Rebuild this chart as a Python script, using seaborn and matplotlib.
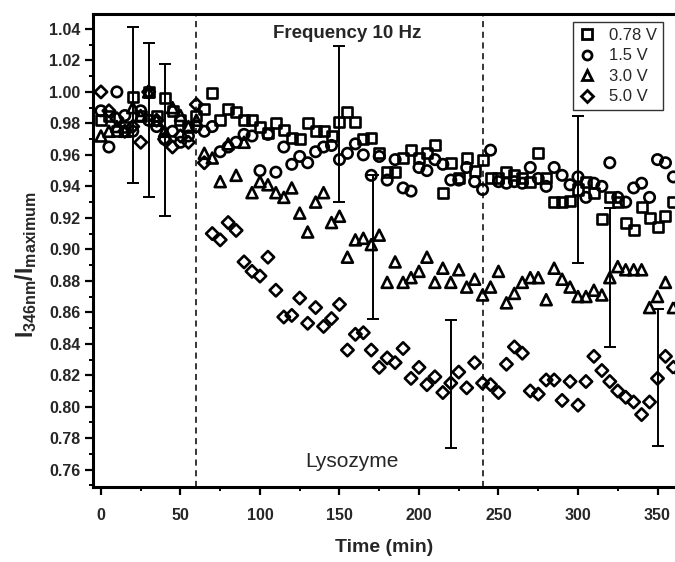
import numpy as np
import pandas as pd
import matplotlib
matplotlib.use("Agg")
import matplotlib.pyplot as plt
import seaborn as sns
from matplotlib.lines import Line2D
from matplotlib.ticker import MultipleLocator

time_min = list(range(0, 365, 5))

v078 = [0.982, 0.985, 0.975, 0.978, 0.997, 0.985, 1.000, 0.985, 0.996, 0.988,
        0.982, 0.978, 0.985, 0.989, 0.999, 0.982, 0.989, 0.987, 0.982, 0.982,
        0.978, 0.974, 0.980, 0.976, 0.971, 0.970, 0.980, 0.975, 0.975, 0.972,
        0.981, 0.987, 0.981, 0.970, 0.971, 0.961, 0.949, 0.949, 0.958, 0.963,
        0.958, 0.961, 0.966, 0.936, 0.955, 0.945, 0.958, 0.950, 0.957, 0.945,
        0.945, 0.949, 0.947, 0.945, 0.943, 0.961, 0.945, 0.930, 0.930, 0.931,
        0.938, 0.943, 0.936, 0.919, 0.933, 0.930, 0.917, 0.912, 0.927, 0.920,
        0.914, 0.921, 0.930]

v15 = [0.988, 0.965, 1.000, 0.985, 0.975, 0.988, 0.982, 0.978, 0.970, 0.975,
       0.968, 0.972, 0.978, 0.975, 0.978, 0.962, 0.965, 0.968, 0.973, 0.972,
       0.950, 0.973, 0.949, 0.965, 0.954, 0.959, 0.955, 0.962, 0.965, 0.966,
       0.957, 0.961, 0.967, 0.960, 0.947, 0.959, 0.944, 0.957, 0.939, 0.937,
       0.952, 0.950, 0.957, 0.954, 0.944, 0.944, 0.952, 0.943, 0.938, 0.963,
       0.943, 0.942, 0.943, 0.942, 0.952, 0.945, 0.940, 0.952, 0.947, 0.941,
       0.946, 0.933, 0.942, 0.940, 0.955, 0.933, 0.930, 0.939, 0.942, 0.933,
       0.957, 0.955, 0.946]

v30 = [0.972, 0.975, 0.978, 0.975, 0.990, 0.985, 1.000, 0.982, 0.975, 0.990,
       0.985, 0.978, 0.982, 0.961, 0.958, 0.943, 0.967, 0.947, 0.968, 0.936,
       0.943, 0.941, 0.936, 0.933, 0.939, 0.923, 0.911, 0.930, 0.936, 0.917,
       0.921, 0.895, 0.906, 0.907, 0.903, 0.909, 0.879, 0.892, 0.879, 0.882,
       0.886, 0.895, 0.879, 0.888, 0.879, 0.887, 0.876, 0.881, 0.871, 0.876,
       0.886, 0.866, 0.872, 0.879, 0.882, 0.882, 0.868, 0.888, 0.881, 0.876,
       0.870, 0.870, 0.874, 0.871, 0.882, 0.889, 0.887, 0.887, 0.887, 0.863,
       0.870, 0.879, 0.863]

v50 = [1.000, 0.988, 0.983, 0.975, 0.978, 0.968, 1.000, 0.982, 0.970, 0.965,
       0.972, 0.968, 0.992, 0.955, 0.910, 0.906, 0.917, 0.912, 0.892, 0.886,
       0.883, 0.895, 0.874, 0.857, 0.858, 0.869, 0.853, 0.863, 0.851, 0.856,
       0.865, 0.836, 0.846, 0.847, 0.836, 0.825, 0.831, 0.828, 0.837, 0.818,
       0.825, 0.814, 0.819, 0.809, 0.815, 0.822, 0.812, 0.828, 0.815, 0.814,
       0.809, 0.827, 0.838, 0.834, 0.810, 0.808, 0.817, 0.817, 0.804, 0.816,
       0.801, 0.816, 0.832, 0.823, 0.816, 0.810, 0.806, 0.803, 0.795, 0.803,
       0.818, 0.832, 0.825]

series_labels = ["0.78 V", "1.5 V", "3.0 V", "5.0 V"]
series_markers = {"0.78 V": "s", "1.5 V": "o", "3.0 V": "^", "5.0 V": "D"}

err_t = [20, 30, 40, 150, 171, 220, 300, 320, 350]
err_lo = [0.942, 0.933, 0.921, 0.930, 0.856, 0.774, 0.891, 0.838, 0.775]
err_hi = [1.041, 1.031, 1.018, 1.029, 0.947, 0.855, 0.985, 0.926, 0.862]

x_ticks = [0, 50, 100, 150, 200, 250, 300, 350]
y_ticks = [0.76, 0.78, 0.80, 0.82, 0.84, 0.86, 0.88, 0.90, 0.92, 0.94,
           0.96, 0.98, 1.00, 1.02, 1.04]

df = pd.concat([
    pd.DataFrame({"t": time_min, "v": vals, "series": lab})
    for vals, lab in zip([v078, v15, v30, v50], series_labels)
])

sns.set_theme(style="ticks")
plt.rcParams["font.family"] = ["Liberation Sans", "DejaVu Sans"]
plt.rcParams["mathtext.fontset"] = "custom"
plt.rcParams["mathtext.bf"] = "Liberation Sans:bold"
plt.rcParams["mathtext.rm"] = "Liberation Sans"

fig = plt.figure(figsize=(6.75, 5.62), dpi=100)
ax = fig.add_axes([93 / 675, 1 - 487 / 562, 1 - 93 / 675, (487 - 14) / 562])

sizes = {"0.78 V": 52, "1.5 V": 56, "3.0 V": 62, "5.0 V": 40}
for lab in series_labels:
    sub = df[df["series"] == lab]
    sns.scatterplot(data=sub, x="t", y="v", marker=series_markers[lab],
                    s=sizes[lab], color="black", linewidth=1.9, ax=ax,
                    legend=False, zorder=3)
for coll in ax.collections:
    coll.set_facecolor("none")
    coll.set_edgecolor("black")

mid = [(a + b) / 2 for a, b in zip(err_lo, err_hi)]
half = [(b - a) / 2 for a, b in zip(err_lo, err_hi)]
ax.errorbar(err_t, mid, yerr=half, fmt="none", ecolor="black",
            elinewidth=1.4, capsize=4, capthick=1.4, zorder=4)

ax.axvline(60, color="black", linestyle=(0, (4, 3)), linewidth=1.1)
ax.axvline(240, color="black", linestyle=(0, (4, 3)), linewidth=1.1)

ax.set_xlim(-5, 361)
ax.set_ylim(0.749, 1.0495)
ax.set_xticks(x_ticks)
ax.set_yticks(y_ticks)
ax.xaxis.set_minor_locator(MultipleLocator(25))
ax.yaxis.set_minor_locator(MultipleLocator(0.01))
ax.set_yticklabels([f"{y:.2f}" for y in y_ticks])
for lbl in ax.get_xticklabels() + ax.get_yticklabels():
    lbl.set_fontweight("bold")
    lbl.set_fontsize(11.5)
ax.tick_params(axis="both", which="major", direction="out", length=6,
               width=1.6, color="black")
ax.tick_params(axis="both", which="minor", direction="out", length=3,
               width=1.4, color="black")
ax.tick_params(axis="x", which="major", pad=9)
ax.tick_params(axis="y", which="major", pad=3)

for side in ["left", "bottom", "top"]:
    ax.spines[side].set_linewidth(2.2)
    ax.spines[side].set_color("black")
ax.spines["right"].set_visible(False)

ax.set_xlabel("Time (min)", fontsize=14, fontweight="bold", labelpad=12)
ax.set_ylabel(r"$\mathbf{I_{346nm}/I_{maximum}}$", fontsize=16.5)
ax.yaxis.set_label_coords(-0.092, 0.47)

ax.text(155, 1.037, "Frequency 10 Hz", fontsize=13.5, fontweight="bold",
        ha="center", va="center")
ax.text(158, 0.765, "Lysozyme", fontsize=15, ha="center", va="center")

handles = [Line2D([], [], marker=series_markers[l], linestyle="none",
                  markerfacecolor="none", markeredgecolor="black",
                  markeredgewidth=2.0, markersize=6.5) for l in series_labels]
leg = ax.legend(handles, series_labels, loc="upper left",
                bbox_to_anchor=(0.825, 0.983), borderaxespad=0,
                frameon=True, fancybox=False,
                edgecolor="black", fontsize=12, handletextpad=0.8,
                handlelength=1.0, borderpad=0.35, labelspacing=0.33)
leg.get_frame().set_linewidth(1.0)

fig.savefig("out.png", dpi=100, facecolor="white")
